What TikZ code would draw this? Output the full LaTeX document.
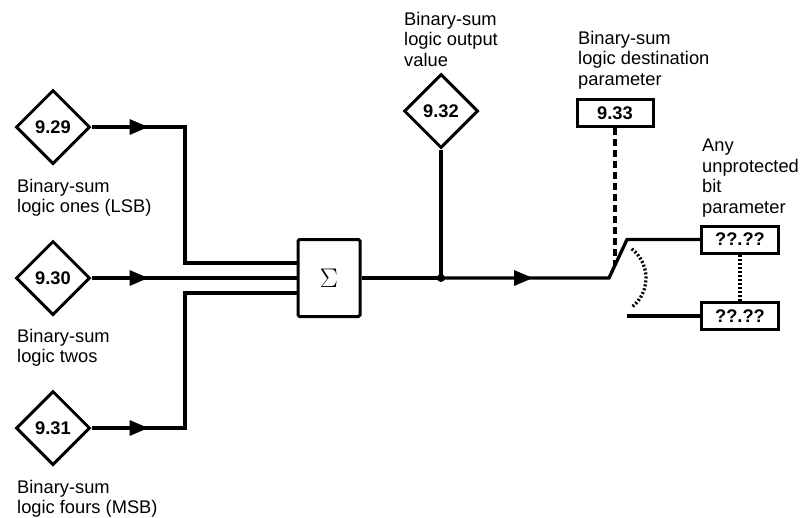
\documentclass[tikz,border=0pt]{standalone}
\usepackage[no-math]{fontspec}
\setmainfont{Liberation Sans}
\newfontfamily\lmfont{Latin Modern Roman}
\usetikzlibrary{shapes.geometric, arrows.meta, positioning, calc, decorations.markings}

\begin{document}
\begin{tikzpicture}[
    x=1pt, y=-1pt,
    every node/.style={font=\fontsize{18.3}{20.5}\selectfont},
    param/.style={diamond, draw, line width=3pt, minimum width=74pt, minimum height=74pt,
        inner sep=0pt, font=\fontsize{18.3}{20.5}\selectfont\bfseries},
    pbox/.style={rectangle, draw, line width=3pt, minimum width=#1, minimum height=27pt,
        inner sep=0pt, font=\fontsize{18.3}{20.5}\selectfont\bfseries},
    sumbox/.style={rectangle, draw, rounded corners=1.5pt, line width=3pt,
        minimum width=62pt, minimum height=77pt, font=\lmfont\fontsize{27}{27}\selectfont},
    wire/.style={line width=3.3pt},
    dashwire/.style={line width=3.3pt, dash pattern=on 7pt off 4pt},
    dotwire/.style={line width=3.3pt, dash pattern=on 2pt off 2pt},
    midarr/.style={postaction={decorate}, decoration={markings,
        mark=at position #1 with {\arrow{Triangle[length=19pt, width=15pt]}}}},
    caption/.style={anchor=north west, inner sep=0pt, align=left},
]
\useasboundingbox (0,0) rectangle (803,517);

% Inputs
\node[param] (d29) at (53,127) {9.29};
\node[param] (d30) at (53,278) {9.30};
\node[param] (d31) at (53,428) {9.31};
\node[caption] (c29) at (17,179) {Binary-sum\\logic ones (LSB)};
\node[caption] (c30) at (17,329) {Binary-sum\\logic twos};
\node[caption] (c31) at (17,480) {Binary-sum\\logic fours (MSB)};

% Summing block
\node[sumbox] (sum) at (329,278) {Σ};
\coordinate (in1) at ([yshift=15pt]sum.west);
\coordinate (in3) at ([yshift=-15pt]sum.west);
\coordinate (bus) at (185,278);

\draw[wire, midarr=57pt] (d29.east) -| (bus |- in1) -- (in1);
\draw[wire, midarr=57pt] (d30.east) -- (sum.west);
\draw[wire, midarr=57pt] (d31.east) -| (bus |- in3) -- (in3);

% Output value
\node[param] (d32) at (441,111) {9.32};
\node[caption] (c32) at (404,12) {Binary-sum\\logic output\\value};
\node[circle, fill, inner sep=0pt, minimum size=8pt] (dot) at (441,278) {};
\draw[wire] (sum.east) -- (dot.center);
\draw[wire] (d32.south) -- (dot.center);

% Destination switch
\node[pbox=76pt] (b33) at (615,113) {9.33};
\node[caption] (c33) at (578,31) {Binary-sum\\logic destination\\parameter};
\node[pbox=77pt] (p1) at (740,239.5) {??.??};
\node[pbox=77pt] (p2) at (740,316) {??.??};
\node[caption] (cany) at (702,139) {Any\\unprotected\\bit\\parameter};

\coordinate (piv) at (609,278);
\coordinate (top) at (627,239.5);
\coordinate (low) at (627,316);
\coordinate (blade) at ($(piv)!0.35!(top)$);

\draw[wire, midarr=92pt] (dot.center) -- (piv) -- (top) -- (p1.west);
\draw[wire] (low) -- (p2.west);
\draw[dashwire] (b33.south) -- (b33.south |- blade);
\draw[dotwire] ([shift={(52:37pt)}]piv) arc[start angle=52, end angle=-52, radius=37pt];
\draw[dotwire] (p1.south) -- (p2.north);

\end{tikzpicture}
\end{document}
